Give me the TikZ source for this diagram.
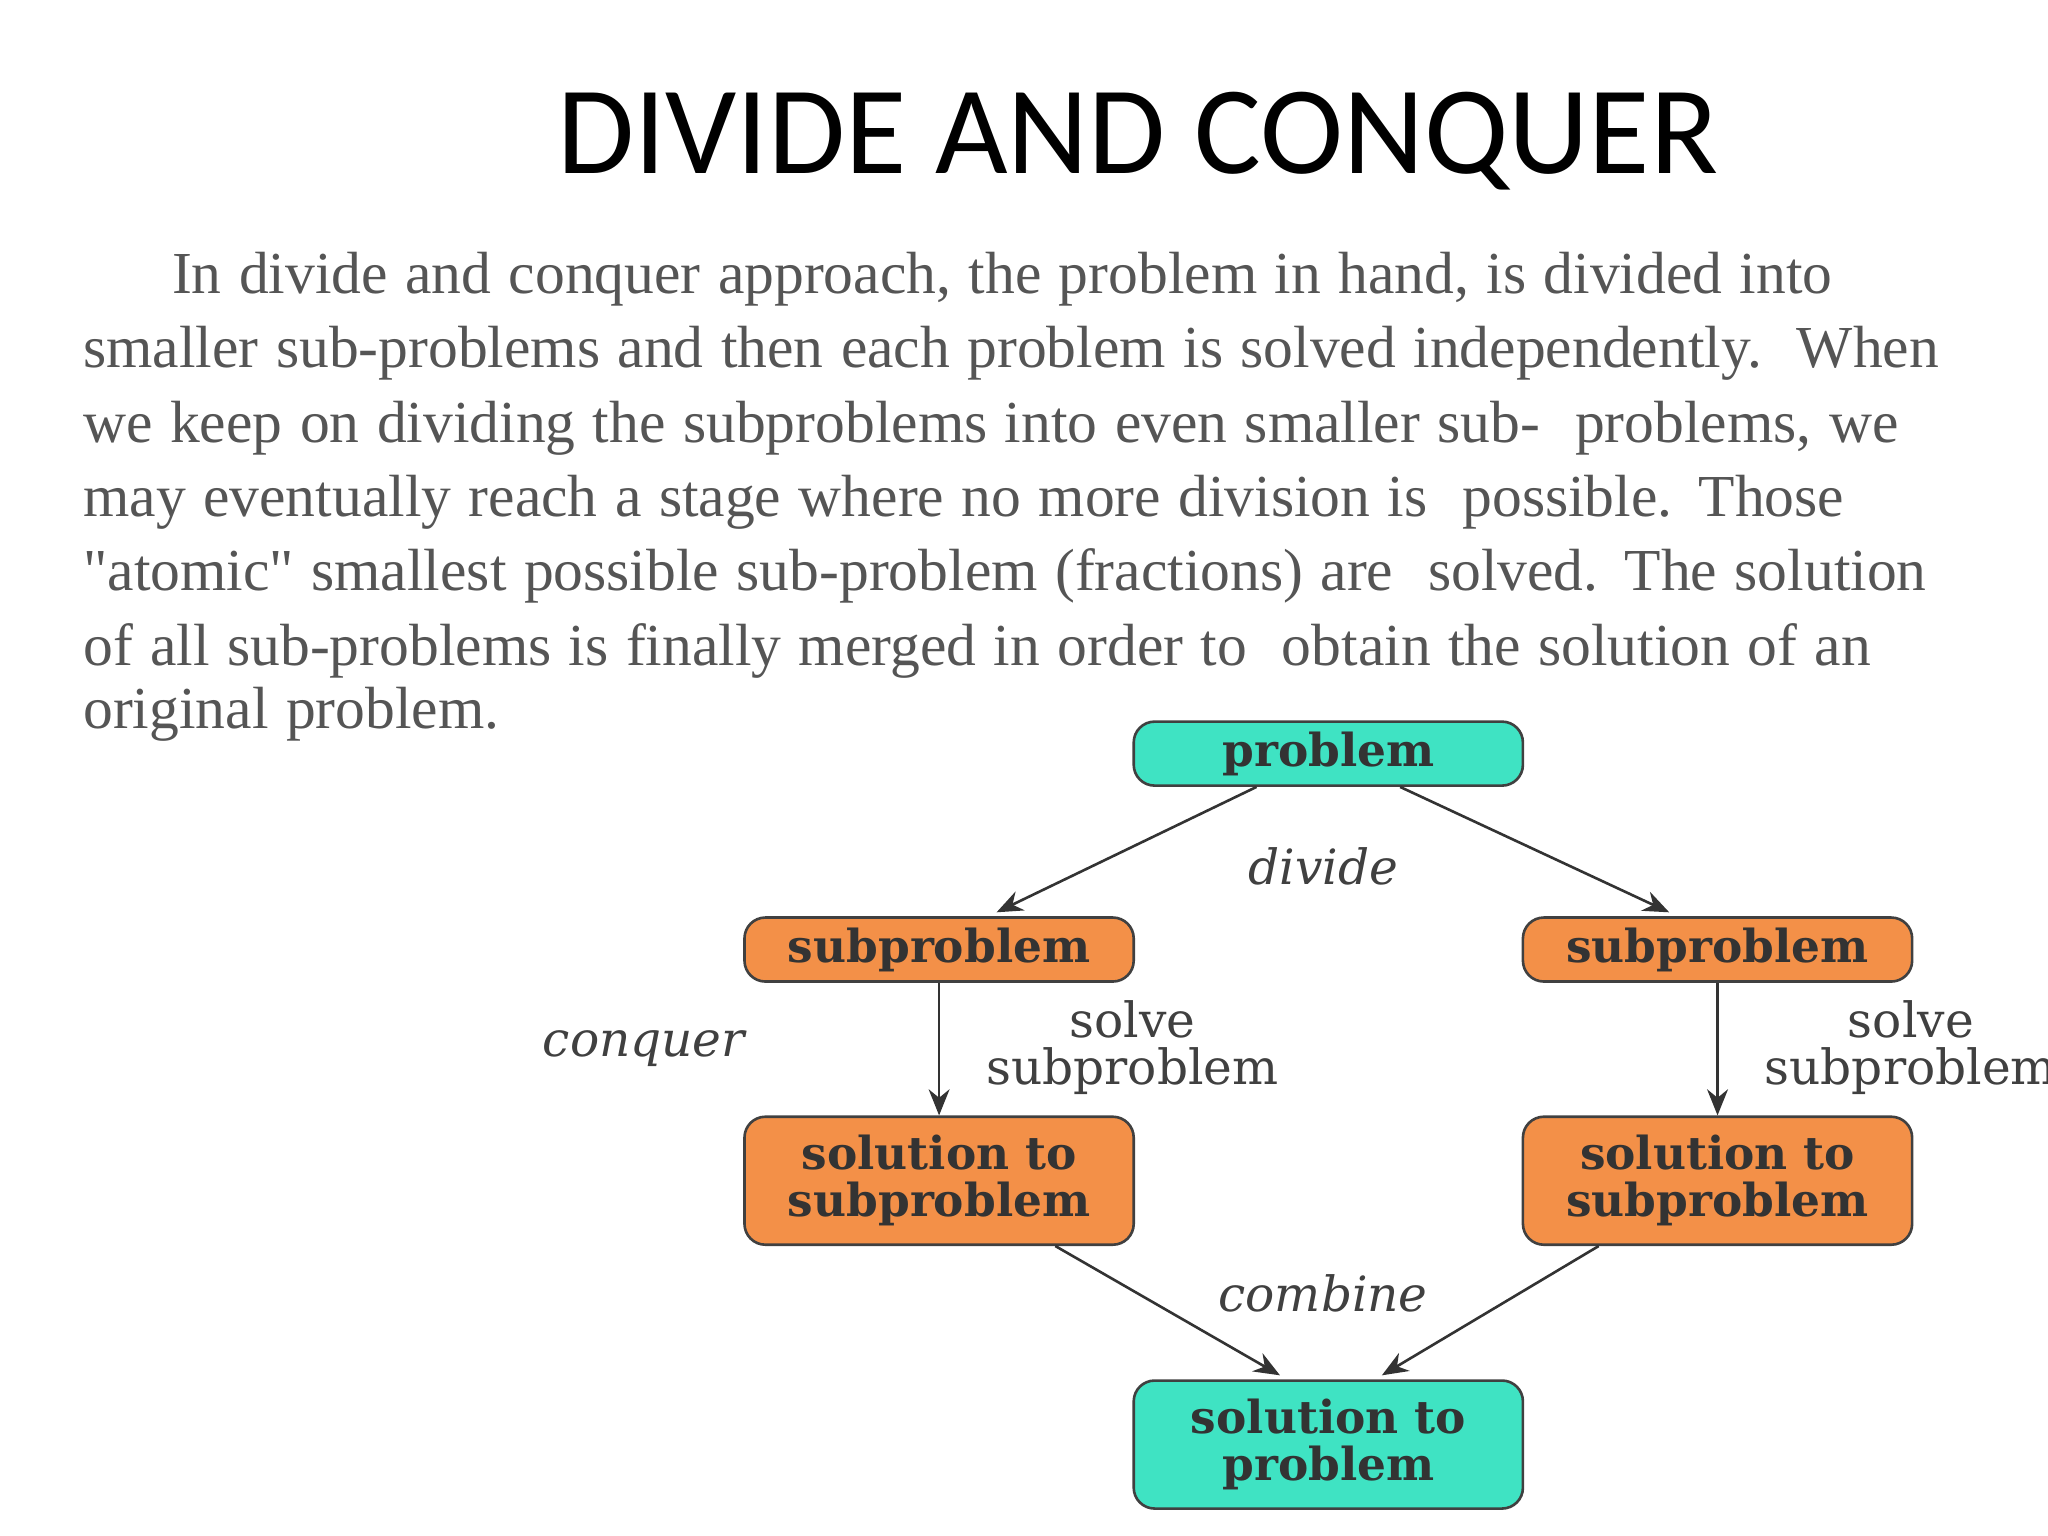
\documentclass[tikz,border=0pt]{standalone}
\usepackage{fontspec}
\setmainfont{Liberation Serif}
\newfontfamily\titlefont{Carlito}
\newfontfamily\dfont{DejaVu Serif}
\usetikzlibrary{calc,arrows.meta}
\definecolor{cyanbox}{HTML}{3FE3C3}
\definecolor{orangebox}{HTML}{F39048}
\definecolor{bodygray}{HTML}{555555}
\newcommand{\jl}[1]{\makebox[373pt][s]{#1}\\}
\tikzset{
  box/.style={draw=black!75,line width=0.5pt,rounded corners=4pt,minimum width=74.5pt,align=center,font=\dfont\bfseries\fontsize{8.7}{9}\selectfont,text=black!80,inner sep=1pt},
  cbox/.style={box,fill=cyanbox},
  obox/.style={box,fill=orangebox},
  arr/.style={-{Stealth[length=5pt,width=4pt]},line width=0.5pt,black!80},
  lab/.style={font=\dfont\itshape\fontsize{9.3}{9}\selectfont,text=black!75},
  slab/.style={font=\dfont\fontsize{9.3}{9}\selectfont,text=black!75,align=center},
}
\begin{document}
\begin{tikzpicture}[x=0.25pt,y=-0.25pt]
\useasboundingbox (0,0) rectangle (1568,1176);
\clip (0,0) rectangle (1568,1176);
\node (title) at (871,108) {\titlefont\fontsize{24}{28}\selectfont DIVIDE AND CONQUER};
\node[anchor=north west,inner sep=0pt,text width=373pt,align=left,text=bodygray] (body) at (63,192)
 {\fontsize{11.4}{14.25}\selectfont
 \jl{\hspace*{17pt}In divide and conquer approach, the problem in hand, is divided into}
 \jl{smaller sub-problems and then each problem is solved independently.\ \ When}
 \jl{we keep on dividing the subproblems into even smaller sub-\ \ problems, we}
 \jl{may eventually reach a stage where no more division is\ \ possible. Those}
 \jl{\textquotedbl atomic\textquotedbl\ smallest possible sub-problem (fractions) are\ \ solved. The solution}
 \jl{of all sub-problems is finally merged in order to\ \ obtain the solution of an}
 original problem.};
\node[cbox,minimum height=12.25pt] (p) at (1017,577) {problem};
\node[obox,minimum height=12.25pt] (sl) at (719,727) {subproblem};
\node[obox,minimum height=12.25pt] (sr) at (1315,727) {subproblem};
\node[obox,minimum height=24.5pt] (ql) at (719,904) {solution to\\subproblem};
\node[obox,minimum height=24.5pt] (qr) at (1315,904) {solution to\\subproblem};
\node[cbox,minimum height=24.5pt] (f) at (1017,1106) {solution to\\problem};
\draw[arr] ($(p.south)+(-55,0)$) -- ($(sl.north)+(44,-3)$);
\draw[arr] ($(p.south)+(55,0)$) -- ($(sr.north)+(-37,-3)$);
\draw[arr] (sl.south) -- (ql.north);
\draw[arr] (sr.south) -- (qr.north);
\draw[arr] ($(ql.south)+(89,0)$) -- ($(f.north)+(-37,-3)$);
\draw[arr] ($(qr.south)+(-91,0)$) -- ($(f.north)+(41,-3)$);
\node[lab] (dv) at (1013,663) {divide};
\node[lab] (cq) at (493,803) {conquer};
\node[lab] (cb) at (1013,990) {combine};
\node[slab] (s1) at (867,802) {solve\\subproblem};
\node[slab] (s2) at (1463,802) {solve\\subproblem};
\end{tikzpicture}
\end{document}
